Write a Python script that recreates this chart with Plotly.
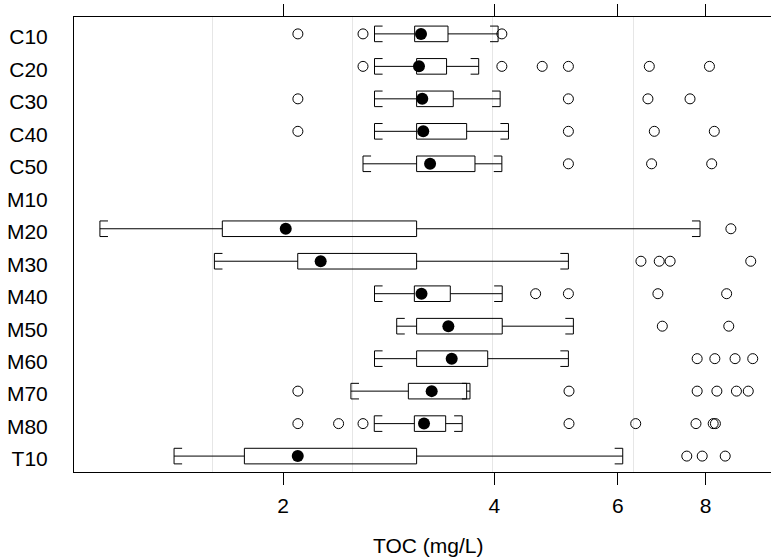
import numpy as np
import plotly.graph_objects as go

# ---- data ----
categories = ["C10", "C20", "C30", "C40", "C50", "M10", "M20",
              "M30", "M40", "M50", "M60", "M70", "M80", "T10"]
whisker_lo = [2.70, 2.70, 2.70, 2.70, 2.60, None, 1.097, 1.597, 2.70, 2.904, 2.70, 2.499, 2.698, 1.399]
q1         = [3.08, 3.10, 3.10, 3.10, 3.10, None, 1.639, 2.099, 3.077, 3.10, 3.10, 3.017, 3.077, 1.762]
median     = [3.145, 3.124, 3.158, 3.168, 3.24, None, 2.018, 2.263, 3.15, 3.44, 3.478, 3.257, 3.176, 2.099]
q3         = [3.436, 3.42, 3.496, 3.653, 3.754, None, 3.10, 3.10, 3.462, 4.105, 3.914, 3.653, 3.41, 3.10]
whisker_hi = [4.05, 3.80, 4.077, 4.19, 4.10, None, 7.854, 5.10, 4.105, 5.184, 5.10, 3.693, 3.60, 6.095]
outliers = [
    [2.10, 2.60, 4.10],
    [2.60, 4.10, 4.68, 5.10, 6.65, 8.10],
    [2.10, 5.10, 6.62, 7.60],
    [2.10, 5.10, 6.76, 8.23],
    [5.10, 6.70, 8.16],
    [],
    [8.69],
    [6.47, 6.87, 7.12, 9.275],
    [4.58, 5.10, 6.84, 8.57],
    [6.94, 8.63],
    [7.78, 8.245, 8.81, 9.336],
    [2.10, 5.11, 7.78, 8.30, 8.85, 9.20],
    [2.10, 2.40, 2.60, 5.11, 6.36, 7.75, 8.20, 8.26],
    [7.52, 7.91, 8.53],
]
x_tick_vals = [2, 4, 6, 8]
x_tick_text = ["2", "4", "6", "8"]
grid_log_vals = [0.2, 0.4, 0.6, 0.8]
x_title = "TOC (mg/L)"

# ---- styling constants ----
HALF = 0.24          # half box height (y units)
CAP = 10 ** 0.0115   # cap tick length as a log-scale factor
FONT = "Liberation Sans, Arial, sans-serif"
FSIZE = 21

box_x, box_y = [], []
wh_x, wh_y = [], []
cap_x, cap_y = [], []
med_x, med_y = [], []
out_x, out_y = [], []

for i, cat in enumerate(categories):
    for v in outliers[i]:
        out_x.append(v)
        out_y.append(i)
    if median[i] is None:
        continue
    lo, a, m, b, hi = whisker_lo[i], q1[i], median[i], q3[i], whisker_hi[i]
    box_x += [a, b, b, a, a, None]
    box_y += [i - HALF, i - HALF, i + HALF, i + HALF, i - HALF, None]
    wh_x += [lo, a, None, b, hi, None]
    wh_y += [i, i, None, i, i, None]
    cap_x += [lo * CAP, lo, lo, lo * CAP, None, hi / CAP, hi, hi, hi / CAP, None]
    cap_y += [i - HALF, i - HALF, i + HALF, i + HALF, None,
              i - HALF, i - HALF, i + HALF, i + HALF, None]
    med_x.append(m)
    med_y.append(i)

line = dict(color="black", width=1)
fig = go.Figure()
fig.add_trace(go.Scatter(x=wh_x, y=wh_y, mode="lines", line=line, hoverinfo="skip"))
fig.add_trace(go.Scatter(x=cap_x, y=cap_y, mode="lines", line=line, hoverinfo="skip"))
fig.add_trace(go.Scatter(x=box_x, y=box_y, mode="lines", line=line, hoverinfo="skip"))
fig.add_trace(go.Scatter(x=out_x, y=out_y, mode="markers",
                         marker=dict(symbol="circle-open", size=10, color="black",
                                     line=dict(width=1, color="black"))))
fig.add_trace(go.Scatter(x=med_x, y=med_y, mode="markers",
                         marker=dict(symbol="circle", size=12, color="black")))

fig.update_layout(
    width=771, height=560,
    margin=dict(l=74, r=0, t=17, b=88),
    paper_bgcolor="white", plot_bgcolor="white",
    showlegend=False,
    font=dict(family=FONT, size=FSIZE, color="black"),
    xaxis=dict(
        type="log", range=[0.0033, 0.99617],
        tickmode="array", tickvals=x_tick_vals, ticktext=x_tick_text,
        ticks="outside", ticklen=12, tickwidth=1, tickcolor="black",
        showline=True, linecolor="black", linewidth=1, mirror="ticks",
        showgrid=False, zeroline=False, ticklabelstandoff=3,
        minor=dict(tickmode="array", tickvals=[10 ** g for g in grid_log_vals],
                   showgrid=True, gridcolor="#e6e6e6", gridwidth=1, ticks=""),
    ),
    yaxis=dict(
        range=[13.49, -0.52],
        tickmode="array", tickvals=list(range(len(categories))), ticktext=categories,
        ticks="", showline=True, linecolor="black", linewidth=1, mirror=False,
        showgrid=False, zeroline=False, ticklabelstandoff=21, ticklabelshift=-3,
    ),
    annotations=[dict(text=x_title, xref="paper", yref="paper",
                      x=(427.5 - 74) / (771 - 74), y=-(545 - 472) / 455,
                      xanchor="center", yanchor="middle", showarrow=False,
                      font=dict(family=FONT, size=FSIZE, color="black"))],
)

fig.write_html("out.html")
